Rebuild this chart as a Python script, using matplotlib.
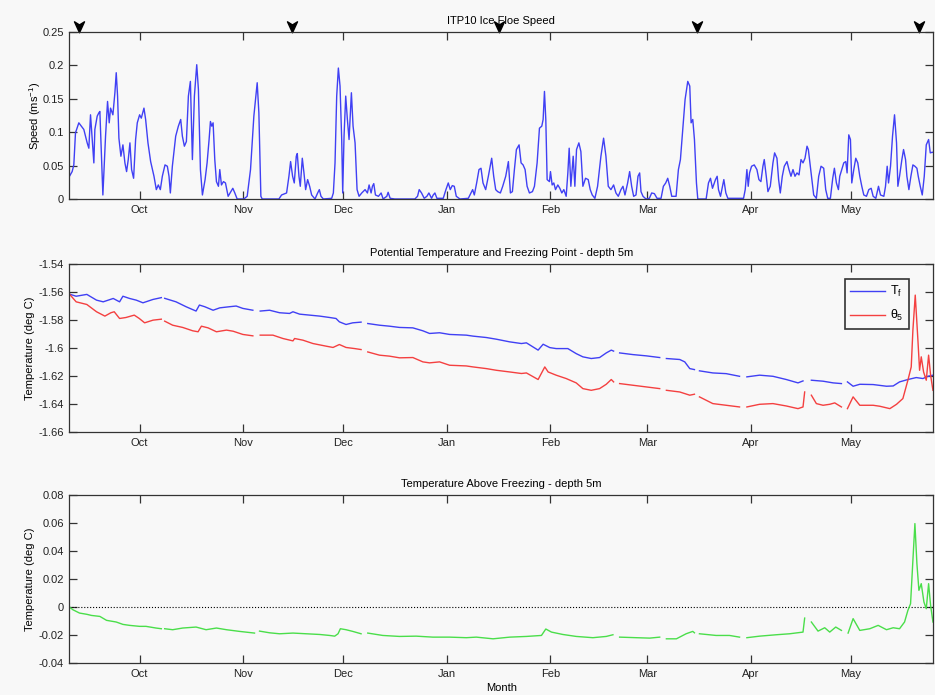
import numpy as np
from datetime import date
import matplotlib

matplotlib.use("Agg")

import matplotlib.pyplot as plt
from matplotlib.path import Path
from matplotlib.ticker import FuncFormatter

nan = np.nan

# time axis: days since 1 Oct 2007
start = date(2007, 10, 1)
month_names = ["Oct", "Nov", "Dec", "Jan", "Feb", "Mar", "Apr", "May"]
month_starts = [(date(2007 + (m < 10), m, 1) - start).days for m in [10, 11, 12, 1, 2, 3, 4, 5]]
xlim = (-21, 237.5)

# ice floe speed (m/s), vertices
speed_day = [
    -21.0, -20.2, -19.7, -19.2, -18.2, -16.7, -15.7, -15.2, -14.7, -14.2, -13.7, -13.4, -12.7, -12.2,
    -11.9, -11.6, -11.0, -10.2, -9.6, -9.1, -8.7, -8.0, -7.4, -7.0, -6.6, -6.2, -5.6, -5.0, -4.4,
    -3.9, -3.4, -2.9, -2.4, -1.8, -1.2, -0.7, 0.0, 0.5, 1.3, 1.8, 2.5, 3.3, 4.3, 5.0, 5.6, 6.2, 6.8,
    7.6, 8.3, 8.8, 9.2, 9.8, 10.8, 11.6, 12.3, 12.8, 13.4, 14.0, 14.6, 15.2, 15.8, 16.4, 17.1, 17.6,
    18.2, 18.8, 19.6, 20.2, 20.8, 21.2, 21.6, 22.0, 22.5, 23.0, 23.6, 24.0, 24.5, 25.1, 25.7, 26.5,
    27.3, 27.9, 28.5, 29.2, 31.2, 32.2, 33.2, 34.2, 35.2, 35.7, 36.3, 36.7, 41.7,
    42.5, 44.0, 44.7, 45.2, 45.8, 46.3, 46.9, 47.2, 47.7, 48.1, 48.7, 49.2, 49.7, 50.3, 50.9, 51.5,
    52.5, 53.3, 53.8, 54.3, 55.0, 57.5, 58.0, 58.5, 59.0, 59.5, 60.0, 60.5, 60.8, 61.2, 61.7, 62.2,
    62.7, 63.1, 63.4, 63.9, 64.5, 65.1, 65.7, 66.5, 67.5, 68.2, 68.7, 69.3, 69.7, 70.1, 70.6, 71.5,
    72.3, 72.9, 74.0, 74.4, 75.0, 76.4, 82.4, 83.2, 83.7, 84.4, 85.2, 86.0, 86.6, 87.4, 87.9, 88.4,
    89.0, 90.9, 91.7, 92.4, 93.0, 93.6, 94.2, 94.8, 95.9, 98.4, 99.2, 99.7, 100.2, 100.9, 101.6,
    102.2, 102.8, 103.6, 104.4, 105.4, 106.0, 106.6,
    107.2, 108.0, 108.7, 109.6, 110.4, 111.0, 111.6, 112.2, 112.8, 113.6, 114.2, 114.8, 115.4, 116.0,
    116.7, 117.6, 118.2, 119.0, 119.7, 120.4, 120.8, 121.2, 121.6, 122.0, 122.7, 123.0, 123.5, 124.0,
    124.5, 125.2, 125.8, 126.4, 127.0, 127.7, 128.2, 128.6, 129.1, 129.8, 130.3, 130.8, 131.5, 132.1,
    132.7, 133.5, 134.3, 134.9, 135.5, 136.3, 137.1, 138.1, 138.9, 139.6, 140.3, 141.1, 141.9, 142.6,
    143.3, 144.1, 144.7, 145.3, 146.1, 146.7, 147.3, 147.9, 148.6, 149.2, 149.7, 150.1, 150.7, 151.6,
    152.6, 153.3, 154.1, 154.9, 156.1, 156.8, 157.5, 158.1, 158.7, 159.3, 160.6, 161.3, 161.9, 162.6,
    163.3, 164.1, 164.7, 165.1, 165.6, 166.1, 166.7, 167.1, 169.6, 170.3, 170.9, 171.5,
    172.4, 172.9, 173.3, 173.9, 174.5, 174.9, 175.5, 176.1, 180.8, 181.3, 181.8, 182.2, 182.6, 183.2,
    184.0, 184.8, 185.4, 186.0, 186.6, 187.0, 187.6, 188.1, 188.8, 189.6, 190.1, 190.8, 191.3, 191.8,
    192.4, 193.0, 193.8, 194.4, 195.0, 195.6, 196.2, 196.8, 197.4, 198.0, 198.6, 199.2, 199.8, 200.2,
    200.8, 201.4, 201.8, 202.6, 203.3, 204.0, 204.8, 205.4, 206.0, 206.8, 207.5, 208.0, 208.6, 209.2,
    209.6, 210.2, 210.8, 211.4, 211.8, 212.3, 212.8, 213.2, 213.8, 214.4, 215.0, 215.6, 216.2, 216.8,
    217.6, 218.3, 219.0, 219.6, 220.4, 221.2, 221.8, 222.8, 223.3, 223.8, 224.2, 224.8, 225.4, 226.0,
    226.6, 227.0, 227.5, 228.2, 228.7, 229.3, 229.7, 230.3, 230.9, 231.5, 232.1, 232.7, 233.1, 233.7,
    234.3, 234.9, 235.5, 236.2, 236.7, 237.3, 237.9,
]
speed = [
    0.034, 0.041, 0.051, 0.099, 0.114, 0.104, 0.084, 0.076, 0.126, 0.089, 0.054, 0.104, 0.124, 0.129,
    0.131, 0.089, 0.006, 0.094, 0.146, 0.114, 0.136, 0.126, 0.159, 0.189, 0.154, 0.091, 0.064, 0.081, 0.054,
    0.041, 0.059, 0.084, 0.044, 0.031, 0.089, 0.114, 0.126, 0.121, 0.136, 0.119, 0.084, 0.056, 0.034, 0.014, 0.021, 0.014, 0.034,
    0.051, 0.049, 0.034, 0.009, 0.049, 0.094, 0.109, 0.119, 0.094, 0.079, 0.086, 0.154, 0.176, 0.059, 0.154, 0.201, 0.164,
    0.044, 0.006, 0.029, 0.054, 0.089, 0.116, 0.109, 0.114, 0.059, 0.026, 0.019, 0.044, 0.021, 0.026, 0.024, 0.004,
    0.011, 0.016, 0.009, 0.0, 0.0, 0.004, 0.044, 0.124, 0.174, 0.129, 0.004, 0.0, 0.0,
    0.006, 0.009, 0.034, 0.056, 0.034, 0.024, 0.064, 0.068, 0.034, 0.019, 0.061, 0.039, 0.014, 0.029, 0.019, 0.006,
    0.0, 0.009, 0.014, 0.004, 0.0, 0.001, 0.009, 0.054, 0.154, 0.196, 0.169, 0.089, 0.009, 0.094, 0.154, 0.119,
    0.089, 0.129, 0.159, 0.109, 0.084, 0.014, 0.004, 0.009, 0.014, 0.009, 0.021, 0.009, 0.019, 0.023, 0.006, 0.004,
    0.009, 0.0, 0.004, 0.010, 0.001, 0.0, 0.0, 0.004, 0.014, 0.009, 0.001, 0.004, 0.009, 0.001, 0.006, 0.009,
    0.001, 0.001, 0.014, 0.024, 0.014, 0.020, 0.019, 0.004, 0.0, 0.001, 0.009, 0.014, 0.006, 0.024, 0.044,
    0.046, 0.024, 0.014, 0.034, 0.061, 0.034, 0.014,
    0.011, 0.009, 0.019, 0.034, 0.056, 0.009, 0.011, 0.044, 0.074, 0.081, 0.054, 0.051, 0.044, 0.019,
    0.009, 0.011, 0.019, 0.054, 0.106, 0.109, 0.119, 0.161, 0.119, 0.029, 0.026, 0.041, 0.021, 0.024,
    0.014, 0.021, 0.016, 0.009, 0.014, 0.004, 0.039, 0.076, 0.019, 0.064, 0.019, 0.074, 0.084, 0.071,
    0.019, 0.031, 0.029, 0.014, 0.006, 0.001, 0.019, 0.064, 0.091, 0.064, 0.019, 0.014, 0.021, 0.009,
    0.004, 0.014, 0.019, 0.006, 0.024, 0.041, 0.019, 0.004, 0.006, 0.034, 0.039, 0.011, 0.004, 0.0,
    0.001, 0.009, 0.008, 0.001, 0.001, 0.019, 0.024, 0.031, 0.019, 0.004, 0.004, 0.044, 0.059, 0.104,
    0.149, 0.176, 0.169, 0.114, 0.119, 0.089, 0.024, 0.0, 0.0, 0.024, 0.031, 0.016,
    0.029, 0.034, 0.014, 0.004, 0.019, 0.029, 0.009, 0.001, 0.001, 0.014, 0.044, 0.019, 0.039, 0.049,
    0.051, 0.044, 0.029, 0.026, 0.049, 0.059, 0.034, 0.011, 0.019, 0.054, 0.069, 0.061, 0.029, 0.009,
    0.034, 0.049, 0.056, 0.044, 0.034, 0.044, 0.034, 0.039, 0.036, 0.059, 0.054, 0.061, 0.079, 0.074,
    0.049, 0.024, 0.006, 0.001, 0.034, 0.049, 0.046, 0.014, 0.001, 0.001, 0.031, 0.046, 0.024, 0.014,
    0.034, 0.044, 0.054, 0.056, 0.039, 0.096, 0.089, 0.024, 0.044, 0.061, 0.054, 0.034, 0.019, 0.006,
    0.004, 0.014, 0.016, 0.004, 0.001, 0.019, 0.006, 0.004, 0.019, 0.049, 0.024, 0.049, 0.094, 0.126,
    0.084, 0.019, 0.034, 0.059, 0.074, 0.059, 0.034, 0.014, 0.034, 0.051, 0.049, 0.046, 0.034, 0.019,
    0.006, 0.034, 0.081, 0.089, 0.069, 0.070, 0.069,
]

# freezing point at 5 m (nan = data gap)
tf_day = [
    -21, -19, -15.8, -12.9, -10.9, -7.9, -6.0, -5.0, -3.0, -1.0, 1.0, 4.0, 6.5, 7.0, 7.5, 10.9, 13.9,
    16.9, 17.9, 19.5, 22.0, 24.0, 26.9, 28.9, 30.9, 33.9, 35.0, 36.1, 38.9, 41.9, 44.9, 45.9, 47.9,
    50.9, 53.9, 56.9, 58.8, 59.8, 61.8, 63.8, 66.3, 67.3, 68.3, 71.8, 74.8, 77.8, 81.8, 84.8, 86.8,
    89.8, 92.8, 97.8, 99.8, 103.8, 106.8, 110.8, 114.3, 115.8, 119.3, 120.8, 122.8, 124.7, 128.2,
    130.7, 132.7, 135.2, 137.7, 139.7, 141.2, 141.9, 142.8, 143.7, 147.7, 151.7, 155.7, 156.7, 157.7,
    161.7, 163.2, 164.7, 166.1, 166.9, 167.6, 171.6, 175.6, 179.6, 180.7, 181.8, 185.6, 189.6, 193.6,
    197.1, 198.6, 199.8, 201.1, 204.6, 207.6, 210.1, 211.0, 211.9, 213.6, 215.6, 219.6, 223.6, 225.6,
    227.5, 230.0, 232.5, 234.5, 236.0, 237.5,
]
tf = [
    -1.5615, -1.563, -1.5617, -1.5658, -1.567, -1.5646, -1.567, -1.563, -1.5646, -1.5658, -1.5677,
    -1.5653, -1.564, nan, -1.5645, -1.567, -1.5705, -1.5736, -1.5693, -1.5705, -1.573, -1.5713,
    -1.5705, -1.570, -1.5717, -1.573, nan, -1.5736, -1.573, -1.5748, -1.5753, -1.5741, -1.5758,
    -1.5765, -1.5772, -1.5782, -1.5789, -1.5813, -1.5832, -1.582, -1.5815, nan, -1.5825, -1.5837,
    -1.5844, -1.5853, -1.5856, -1.5877, -1.5896, -1.5891, -1.5903, -1.5908, -1.5915, -1.5925,
    -1.5937, -1.5956, -1.5968, -1.5963, -1.6015, -1.5973, -1.5997, -1.6004, -1.6004, -1.604,
    -1.6063, -1.6075, -1.6068, -1.6035, -1.6015, -1.6022, nan, -1.6035, -1.6047, -1.6056, -1.6068,
    nan, -1.6075, -1.6082, -1.6099, -1.6147, -1.6154, nan, -1.6163, -1.6178, -1.6183, -1.6202, nan,
    -1.6206, -1.6194, -1.6202, -1.6225, -1.6249, -1.6235, nan, -1.623, -1.6237, -1.6249, -1.6254,
    nan, -1.6242, -1.6273, -1.6259, -1.6261, -1.6273, -1.6271, -1.6242, -1.6225, -1.6211, -1.6218,
    -1.6202, -1.6194,
]

# potential temperature at 5 m
theta_day = [
    -21, -19, -15.8, -12.9, -10.4, -8.6, -7.6, -6.0, -4.1, -1.6, -0.1, 1.5, 4.0, 6.5, 7.0, 7.5, 9.9,
    12.9, 15.9, 17.5, 18.5, 20.5, 23.0, 26.0, 28.0, 30.9, 33.9, 35.0, 36.1, 39.9, 42.9, 45.9, 46.4,
    48.9, 51.9, 55.9, 57.9, 59.8, 61.8, 64.4, 66.3, 67.3, 68.3, 71.8, 74.8, 77.8, 81.8, 84.8, 86.8,
    89.8, 92.8, 97.8, 99.8, 103.8, 106.8, 110.8, 114.3, 115.8, 119.3, 121.3, 122.3, 124.7, 127.7,
    130.7, 132.7, 135.2, 137.7, 139.7, 141.2, 141.9, 142.8, 143.7, 147.7, 151.7, 155.7, 156.7, 157.7,
    161.7, 164.7, 166.1, 166.9, 167.6, 171.6, 175.6, 179.6, 180.7, 181.8, 185.6, 189.6, 193.6, 197.1,
    198.6, 199.1, 199.8, 201.1, 202.6, 204.6, 206.6, 208.1, 210.1, 211.0, 211.9, 213.6, 215.6, 219.6,
    221.6, 224.6, 226.6, 228.5, 230.0, 231.0, 231.5, 232.2, 233.0, 233.5, 234.0, 234.7, 235.5, 236.2,
    236.8, 237.5,
]
theta = [
    -1.5615, -1.567, -1.5689, -1.5741, -1.5772, -1.5748, -1.5741, -1.5789, -1.5782, -1.5765, -1.5789,
    -1.582, -1.5801, -1.5794, nan, -1.5808, -1.5837, -1.5853, -1.5877, -1.5884, -1.5844, -1.5856,
    -1.5884, -1.5872, -1.588, -1.5903, -1.5913, nan, -1.5908, -1.5908, -1.5932, -1.5949, -1.5932,
    -1.5944, -1.5968, -1.5987, -1.5996, -1.5975, -1.5996, -1.6004, -1.6011, nan, -1.6028, -1.6051,
    -1.6058, -1.607, -1.6068, -1.6099, -1.6106, -1.6099, -1.6123, -1.6128, -1.6135, -1.6147, -1.6159,
    -1.6171, -1.6182, -1.6178, -1.6225, -1.6135, -1.6171, -1.6194, -1.6218, -1.6249, -1.629, -1.6302,
    -1.629, -1.6259, -1.6225, -1.6242, nan, -1.6254, -1.6266, -1.6278, -1.629, nan, -1.6302, -1.6314,
    -1.6337, -1.633, nan, -1.6349, -1.6397, -1.6409, -1.6421, nan, -1.6421, -1.6402, -1.6397, -1.6414,
    -1.6433, -1.6421, -1.6314, nan, -1.6337, -1.6397, -1.6409, -1.6402, -1.6392, -1.6421, nan, -1.6433,
    -1.6349, -1.6409, -1.6409, -1.6416, -1.6433, -1.6402, -1.6361, -1.623, -1.6135, -1.5872, -1.5622,
    -1.5944, -1.6159, -1.6063, -1.6171, -1.623, -1.6051, -1.6194, -1.6302,
]

# temperature above freezing at 5 m
above_day = [
    -21, -20, -18, -15.8, -14.4, -11.9, -9.9, -7.0, -5.0, -3.0, 0.0, 1.9, 4.9, 6.5, 7.0, 7.5, 9.9,
    12.9, 16.9, 19.9, 23.0, 26.0, 29.9, 34.4, 35.0, 35.9, 38.9, 41.9, 45.9, 49.9, 53.9, 56.9, 58.4,
    59.4, 60.1, 61.8, 63.8, 66.3, 67.3, 68.3, 72.8, 77.8, 82.8, 87.8, 92.8, 97.8, 100.8, 105.8, 110.8,
    115.8, 120.3, 121.6, 123.3, 126.7, 130.7, 135.7, 139.7, 141.7, 142.8, 143.7, 148.7, 152.7, 155.7,
    156.7, 157.7, 160.7, 163.6, 165.6, 166.1, 166.9, 167.6, 172.6, 176.6, 179.6, 180.7, 181.8, 185.6,
    190.6, 194.6, 198.6, 199.1, 199.8, 201.1, 203.1, 205.1, 206.6, 208.4, 210.1, 211.0, 212.1, 213.6,
    215.6, 218.6, 221.1, 223.6, 225.6, 227.5, 229.0, 230.0, 230.8, 231.5, 232.1, 232.7, 233.3, 234.0,
    234.8, 235.5, 236.2, 236.8, 237.5,
]
above = [
    0.0, -0.0019, -0.0043, -0.0052, -0.006, -0.0067, -0.0095, -0.0107, -0.0124, -0.0131, -0.0138,
    -0.0138, -0.015, -0.0155, nan, -0.0155, -0.0162, -0.015, -0.0143, -0.0162, -0.015, -0.0162,
    -0.0174, -0.0186, nan, -0.0172, -0.0184, -0.0191, -0.0186, -0.0191, -0.0196, -0.0203, -0.0208,
    -0.0191, -0.0155, -0.0162, -0.0174, -0.0191, nan, -0.0186, -0.0203, -0.021, -0.0208, -0.0215,
    -0.0215, -0.0219, -0.0215, -0.0227, -0.0215, -0.021, -0.0203, -0.0157, -0.0179, -0.0196, -0.021,
    -0.0219, -0.021, -0.0198, nan, -0.0215, -0.0219, -0.0222, -0.0215, nan, -0.0227, -0.0227, -0.0191,
    -0.0174, -0.0184, nan, -0.0191, -0.0203, -0.0203, -0.0215, nan, -0.0219, -0.0208, -0.0198, -0.0191,
    -0.0179, -0.0079, nan, -0.0107, -0.0172, -0.0148, -0.0179, -0.0143, -0.0167, nan, -0.0186, -0.0083,
    -0.0167, -0.0155, -0.0131, -0.0162, -0.0148, -0.0155, -0.0107, -0.0024, 0.0024, 0.0334, 0.0596,
    0.031, 0.0119, 0.0167, 0.0036, -0.0012, 0.0167, 0.0012, -0.0107,
]

# black arrow markers along the top of the speed panel
arrow_days = [-18.0, 45.6, 107.5, 167.0, 233.2]

plt.rcParams["font.family"] = ["Liberation Sans", "DejaVu Sans"]
plt.rcParams["font.size"] = 8
plt.rcParams["mathtext.fontset"] = "custom"
plt.rcParams["mathtext.rm"] = "Liberation Sans"
plt.rcParams["mathtext.it"] = "Liberation Sans"

bg = "#f8f8f8"
edge = "#333333"
fig = plt.figure(figsize=(9.35, 6.95), dpi=100, facecolor=bg)

left, width = 0.0743, 0.9235
ax1 = fig.add_axes([left, 0.7137, width, 0.2403])
ax2 = fig.add_axes([left, 0.3784, width, 0.2417])
ax3 = fig.add_axes([left, 0.0460, width, 0.2417])

fmt = FuncFormatter(lambda v, p: "%g" % round(v, 4))


def style(ax, yticks):
    ax.set_facecolor(bg)
    ax.set_xlim(*xlim)
    ax.set_ylim(yticks[0], yticks[-1])
    ax.set_xticks(month_starts)
    ax.set_xticklabels(month_names)
    ax.set_yticks(yticks)
    ax.yaxis.set_major_formatter(fmt)
    ax.tick_params(direction="in", top=True, right=True, length=5.5, width=0.9,
                   color=edge, labelsize=8, pad=4, labelcolor="#222222")
    for s in ax.spines.values():
        s.set_color(edge)
        s.set_linewidth(0.9)


# speed
ax1.plot(speed_day, speed, color="#4040f4", lw=1.0)
style(ax1, np.arange(0, 0.2501, 0.05))
ax1.set_ylabel("Speed (ms$^{-1}$)", fontsize=8)
ax1.yaxis.set_label_coords(-0.031, 0.5)
ax1.set_title("ITP10 Ice Floe Speed", fontsize=8, pad=6)

arrow = Path([(0, -1), (0.8, 0.75), (0, 0.25), (-0.8, 0.75), (0, -1)],
             [Path.MOVETO, Path.LINETO, Path.LINETO, Path.LINETO, Path.CLOSEPOLY])
ax1.plot(arrow_days, [1.035] * len(arrow_days), transform=ax1.get_xaxis_transform(),
         ls="none", marker=arrow, ms=9, color="black", clip_on=False)

# potential temperature and freezing point
ax2.plot(tf_day, tf, color="#4040f4", lw=1.0, label="T$_\\mathregular{f}$")
ax2.plot(theta_day, theta, color="#f44040", lw=1.0, label="$\\theta_\\mathregular{5}$")
style(ax2, np.arange(-1.66, -1.5399, 0.02))
ax2.set_ylabel("Temperature (deg C)", fontsize=8)
ax2.yaxis.set_label_coords(-0.040, 0.5)
ax2.set_title("Potential Temperature and Freezing Point - depth 5m", fontsize=8, pad=6)
leg = ax2.legend(loc="upper right", bbox_to_anchor=(0.977, 0.935), fancybox=False,
                 framealpha=1, facecolor=bg, edgecolor="#333333", fontsize=9,
                 handlelength=2.8, borderpad=0.45, labelspacing=0.7, handletextpad=0.4,
                 borderaxespad=0.3)
leg.get_frame().set_linewidth(1.2)

# temperature above freezing
ax3.plot(xlim, [0, 0], color="black", ls=":", lw=0.8)
ax3.plot(above_day, above, color="#4ade4a", lw=1.0)
style(ax3, np.arange(-0.04, 0.0801, 0.02))
ax3.set_ylabel("Temperature (deg C)", fontsize=8)
ax3.yaxis.set_label_coords(-0.040, 0.5)
ax3.set_title("Temperature Above Freezing - depth 5m", fontsize=8, pad=6)
ax3.set_xlabel("Month", fontsize=8, labelpad=3)

fig.savefig("out.png", dpi=100, facecolor=bg)
plt.close(fig)
